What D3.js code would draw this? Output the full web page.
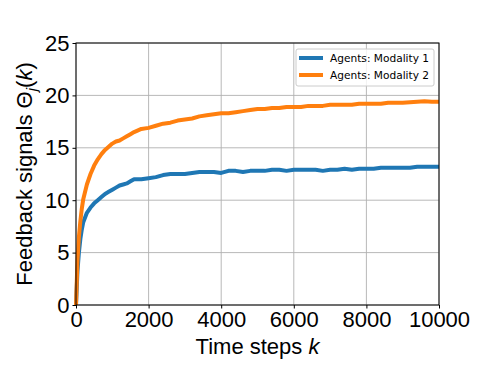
<!DOCTYPE html>
<html>
<head>
<meta charset="utf-8">
<script src="https://cdn.jsdelivr.net/npm/d3@7"></script>
<style>
  body { margin: 0; background: #fff; }
  text { font-family: "Liberation Sans", Arial, sans-serif; }
</style>
</head>
<body>
<div id="chart"></div>
<script>
// values
const steps = [0, 40, 80, 120, 160, 200, 300, 400, 500, 600, 700, 800, 900, 1000, 1100, 1200, 1300, 1400, 1500, 1600, 1800, 2000, 2200, 2400, 2600, 2800, 3000, 3200, 3400, 3600, 3800, 4000, 4200, 4400, 4600, 4800, 5000, 5200, 5400, 5600, 5800, 6000, 6200, 6400, 6600, 6800, 7000, 7200, 7400, 7600, 7800, 8000, 8200, 8400, 8600, 8800, 9000, 9200, 9400, 9600, 9800, 10000];
const modality1 = [0, 3.2, 5.0, 6.3, 7.2, 7.9, 8.8, 9.3, 9.7, 10.0, 10.3, 10.6, 10.8, 11.0, 11.2, 11.4, 11.5, 11.6, 11.8, 12.0, 12.0, 12.1, 12.2, 12.4, 12.5, 12.5, 12.5, 12.6, 12.7, 12.7, 12.7, 12.6, 12.8, 12.8, 12.7, 12.8, 12.8, 12.8, 12.9, 12.9, 12.8, 12.9, 12.9, 12.9, 12.9, 12.8, 12.9, 12.9, 13.0, 12.9, 13.0, 13.0, 13.0, 13.1, 13.1, 13.1, 13.1, 13.1, 13.2, 13.2, 13.2, 13.2];
const modality2 = [0, 4.2, 6.5, 8.0, 9.2, 10.1, 11.5, 12.5, 13.3, 13.9, 14.4, 14.8, 15.1, 15.4, 15.6, 15.7, 15.9, 16.1, 16.3, 16.5, 16.8, 16.9, 17.1, 17.3, 17.4, 17.6, 17.7, 17.8, 18.0, 18.1, 18.2, 18.3, 18.3, 18.4, 18.5, 18.6, 18.7, 18.7, 18.8, 18.8, 18.9, 18.9, 18.9, 19.0, 19.0, 19.0, 19.1, 19.1, 19.1, 19.1, 19.2, 19.2, 19.2, 19.2, 19.3, 19.3, 19.3, 19.35, 19.4, 19.45, 19.4, 19.4];
const xTicks = [0, 2000, 4000, 6000, 8000, 10000];
const yTicks = [0, 5, 10, 15, 20, 25];
const seriesNames = ["Agents: Modality 1", "Agents: Modality 2"];
const colors = ["#1f77b4", "#ff7f0e"];

const W = 488, H = 366;
const margin = { top: 43, right: 49, bottom: 61, left: 76 };
const width = W - margin.left - margin.right;
const height = H - margin.top - margin.bottom;

const svg = d3.select('#chart').append('svg')
  .attr('width', W).attr('height', H);
const g = svg.append('g')
  .attr('transform', `translate(${margin.left},${margin.top})`);

const x = d3.scaleLinear().domain([0, 10000]).range([0, width]);
const y = d3.scaleLinear().domain([0, 25]).range([height, 0]);

// grid
g.append('g').selectAll('line').data(xTicks).enter().append('line')
  .attr('x1', d => x(d)).attr('x2', d => x(d))
  .attr('y1', 0).attr('y2', height)
  .attr('stroke', '#b0b0b0').attr('stroke-width', 0.9);
g.append('g').selectAll('line').data(yTicks).enter().append('line')
  .attr('x1', 0).attr('x2', width)
  .attr('y1', d => y(d)).attr('y2', d => y(d))
  .attr('stroke', '#b0b0b0').attr('stroke-width', 0.9);

// lines
const line = d3.line().x((d, i) => x(steps[i])).y(d => y(d));
[modality1, modality2].forEach((vals, i) => {
  g.append('path').datum(vals)
    .attr('fill', 'none')
    .attr('stroke', colors[i])
    .attr('stroke-width', 4)
    .attr('stroke-linejoin', 'round')
    .attr('d', line);
});

// axes
const xAxis = g.append('g')
  .attr('transform', `translate(0,${height})`)
  .call(d3.axisBottom(x).tickValues(xTicks).tickSize(3.5).tickPadding(3).tickFormat(d3.format('d')));
const yAxis = g.append('g')
  .call(d3.axisLeft(y).tickValues(yTicks).tickSize(3.5).tickPadding(3));
[xAxis, yAxis].forEach(a => {
  a.selectAll('text').attr('font-size', 22).attr('fill', '#000')
    .style('font-family', '"Liberation Sans", Arial, sans-serif');
  a.select('.domain').remove();
  a.selectAll('line').attr('stroke', '#000');
});

// frame
g.append('rect')
  .attr('width', width).attr('height', height)
  .attr('fill', 'none').attr('stroke', '#000').attr('stroke-width', 1);

// axis labels
svg.append('text')
  .attr('x', margin.left + width / 2).attr('y', 354)
  .attr('text-anchor', 'middle').attr('font-size', 22)
  .html('Time steps <tspan font-style="italic">k</tspan>');

svg.append('text')
  .attr('transform', `translate(32,${margin.top + height / 2}) rotate(-90)`)
  .attr('text-anchor', 'middle').attr('font-size', 22)
  .html('Feedback signals Θ<tspan font-style="italic" font-size="15" dy="5">j</tspan><tspan dy="-5">(</tspan><tspan font-style="italic">k</tspan>)');

// legend
const lg = svg.append('g').attr('transform', 'translate(296,49)');
lg.append('rect')
  .attr('width', 138).attr('height', 37).attr('rx', 2)
  .attr('fill', '#fff').attr('fill-opacity', 0.8)
  .attr('stroke', '#ccc').attr('stroke-width', 1);
seriesNames.forEach((name, i) => {
  const yy = 9 + i * 17;
  lg.append('line')
    .attr('x1', 3).attr('x2', 27).attr('y1', yy).attr('y2', yy)
    .attr('stroke', colors[i]).attr('stroke-width', 4);
  lg.append('text')
    .attr('x', 34).attr('y', yy + 3.8)
    .attr('font-size', 10.6)
    .style('font-family', '"DejaVu Sans", sans-serif')
    .text(name);
});
</script>
</body>
</html>
